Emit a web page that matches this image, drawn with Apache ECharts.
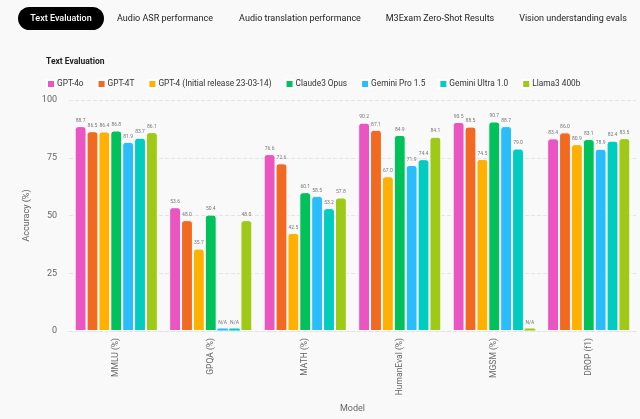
<!DOCTYPE html>
<html>
<head>
<meta charset="utf-8">
<script src="https://cdn.jsdelivr.net/npm/echarts@6/dist/echarts.min.js"></script>
<style>
html,body{margin:0;padding:0;background:#f9f9f9;}
#c{width:640px;height:419px;}
</style>
</head>
<body>
<div id="c"></div>
<script>
const categories = ['MMLU (%)', 'GPQA (%)', 'MATH (%)', 'HumanEval (%)', 'MGSM (%)', 'DROP (f1)'];
const seriesNames = ['GPT-4o', 'GPT-4T', 'GPT-4 (Initial release 23-03-14)', 'Claude3 Opus', 'Gemini Pro 1.5', 'Gemini Ultra 1.0', 'Llama3 400b'];
const gpt4o = [88.7, 53.6, 76.6, 90.2, 90.5, 83.4];
const gpt4t = [86.5, 48.0, 72.6, 87.1, 88.5, 86.0];
const gpt4initial = [86.4, 35.7, 42.5, 67.0, 74.5, 80.9];
const claude3opus = [86.8, 50.4, 60.1, 84.9, 90.7, 83.1];
const geminiPro15 = [81.9, null, 58.5, 71.9, 88.7, 78.9];
const geminiUltra10 = [83.7, null, 53.2, 74.4, 79.0, 82.4];
const llama3400b = [86.1, 48.0, 57.8, 84.1, null, 83.5];
const yTicks = [0, 25, 50, 75, 100];
const tabs = ['Text Evaluation', 'Audio ASR performance', 'Audio translation performance', 'M3Exam Zero-Shot Results', 'Vision understanding evals'];
const NA_STUB = 1.3;

const colors = ['#EA55C1', '#F26A21', '#FFB000', '#00C15A', '#2ABDFB', '#00CCC0', '#9ECA17'];
const allValues = [gpt4o, gpt4t, gpt4initial, claude3opus, geminiPro15, geminiUltra10, llama3400b];

const FONT = 'Roboto, "Liberation Sans", sans-serif';

const series = seriesNames.map((name, i) => ({
  name: name,
  type: 'bar',
  barGap: '0%',
  barCategoryGap: '12%',
  itemStyle: { color: colors[i], borderColor: '#ffffff', borderWidth: 1, borderRadius: [3, 3, 0, 0] },
  label: {
    show: true, position: 'top', distance: 3, fontSize: 5, color: '#777', fontFamily: FONT,
    formatter: p => (p.data && p.data.na) ? 'N/A' : p.value.toFixed(1)
  },
  data: allValues[i].map(v => v === null
    ? { value: NA_STUB, na: true, itemStyle: { borderWidth: 0.4, borderRadius: [2, 2, 0, 0] } }
    : v)
}));

const chart = echarts.init(document.getElementById('c'), null, { renderer: 'canvas' });

const tabX = [61, 165, 300, 440, 573];
const graphic = [
  { type: 'rect', shape: { x: 18, y: 7, width: 86, height: 23, r: 12 }, style: { fill: '#000' } }
];
tabs.forEach((t, i) => {
  graphic.push({
    type: 'text', x: tabX[i], y: 19,
    style: { text: t, fill: i === 0 ? '#fff' : '#222', font: (i === 0 ? '500 ' : '') + '9px ' + FONT, textAlign: 'center', textVerticalAlign: 'middle' }
  });
});

chart.setOption({
  backgroundColor: '#f9f9f9',
  animation: false,
  color: colors,
  title: {
    text: 'Text Evaluation', left: 46, top: 57, padding: 0,
    textStyle: { fontSize: 8.5, fontWeight: 'bold', color: '#222', fontFamily: FONT }
  },
  graphic: graphic,
  legend: {
    left: 46, top: 79, padding: 0, itemWidth: 8, itemHeight: 8, itemGap: 13, icon: 'rect',
    textStyle: { fontSize: 8.3, color: '#333', fontFamily: FONT, padding: [0, 0, 0, -3] },
    data: seriesNames
  },
  grid: { left: 69, right: 4, top: 100, bottom: 88, outerBoundsMode: 'none', containLabel: false },
  xAxis: {
    type: 'category', data: categories,
    name: 'Model', nameLocation: 'middle', nameGap: 73,
    nameTextStyle: { fontSize: 9, color: '#666', fontFamily: FONT },
    axisLine: { show: true, lineStyle: { color: '#e2e2e2', type: 'dashed' } },
    axisTick: { show: false },
    axisLabel: { rotate: 90, fontSize: 8.5, color: '#666', margin: 7, fontFamily: FONT }
  },
  yAxis: {
    type: 'value', min: yTicks[0], max: yTicks[yTicks.length - 1], interval: 25,
    name: 'Accuracy (%)', nameLocation: 'middle', nameGap: 38,
    nameTextStyle: { fontSize: 9, color: '#666', fontFamily: FONT },
    axisLine: { show: false }, axisTick: { show: false },
    axisLabel: { fontSize: 9, color: '#666', margin: 12, fontFamily: FONT },
    splitLine: { lineStyle: { color: '#e4e4e4', type: 'dashed' } }
  },
  series: series
});
</script>
</body>
</html>
